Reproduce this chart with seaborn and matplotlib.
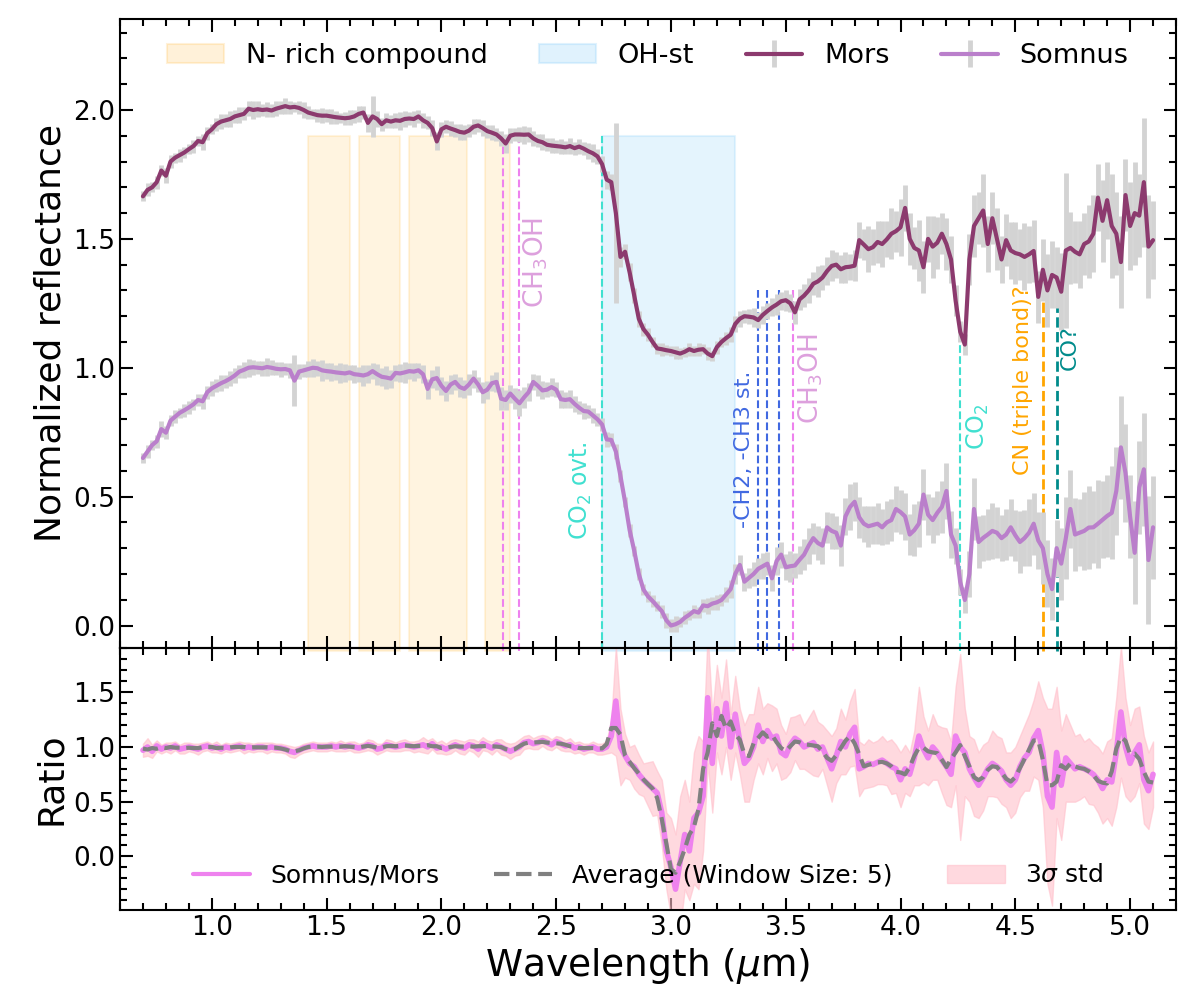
import numpy as np
import pandas as pd
import seaborn as sns
import matplotlib.pyplot as plt
from matplotlib.ticker import MultipleLocator
from matplotlib.lines import Line2D
from matplotlib.patches import Patch

# wavelength grid (um), 0.02 um steps
wavelength = np.round(np.arange(0.70, 5.1001, 0.02), 2)

# Mors spectrum (normalized reflectance, offset +1)
mors = [
    1.665, 1.69, 1.70, 1.72, 1.765, 1.745, 1.80, 1.815, 1.825, 1.835,
    1.848, 1.86, 1.88, 1.875, 1.91, 1.925, 1.945, 1.955, 1.96, 1.965,
    1.975, 1.98, 1.985, 2.005, 2.0, 2.003, 2.0, 2.002, 1.998, 2.005,
    2.01, 2.015, 2.01, 2.012, 2.008, 2.0, 1.99, 1.985, 1.98, 1.978,
    1.978, 1.975, 1.972, 1.97, 1.968, 1.97, 1.975, 1.985, 1.99, 1.95,
    1.975, 1.965, 1.945, 1.96, 1.955, 1.96, 1.958, 1.965, 1.967, 1.965,
    1.975, 1.96, 1.95, 1.93, 1.878, 1.925, 1.935, 1.928, 1.922, 1.915,
    1.912, 1.92, 1.935, 1.94, 1.93, 1.918, 1.912, 1.905, 1.89, 1.87,
    1.9, 1.905, 1.905, 1.904, 1.905, 1.89, 1.88, 1.875, 1.865, 1.862,
    1.86, 1.858, 1.855, 1.86, 1.852, 1.858, 1.85, 1.84, 1.832, 1.82,
    1.79, 1.73, 1.72, 1.6, 1.43, 1.45, 1.37, 1.28, 1.19, 1.15,
    1.128, 1.1, 1.075, 1.072, 1.068, 1.065, 1.06, 1.055, 1.062, 1.072,
    1.065, 1.07, 1.072, 1.055, 1.045, 1.08, 1.1, 1.115, 1.128, 1.17,
    1.19, 1.2, 1.198, 1.195, 1.185, 1.205, 1.22, 1.234, 1.245, 1.258,
    1.262, 1.25, 1.215, 1.265, 1.28, 1.3, 1.326, 1.335, 1.35, 1.375,
    1.395, 1.4, 1.382, 1.39, 1.392, 1.396, 1.495, 1.478, 1.46, 1.468,
    1.488, 1.48, 1.498, 1.52, 1.53, 1.545, 1.62, 1.5, 1.465, 1.455,
    1.39, 1.5, 1.47, 1.485, 1.52, 1.48, 1.42, 1.26, 1.14, 1.09,
    1.42, 1.55, 1.58, 1.61, 1.48, 1.58, 1.5, 1.42, 1.495, 1.455,
    1.445, 1.44, 1.43, 1.44, 1.453, 1.275, 1.38, 1.3, 1.36, 1.35,
    1.295, 1.455, 1.465, 1.45, 1.44, 1.48, 1.49, 1.52, 1.66, 1.57,
    1.65, 1.55, 1.52, 1.41, 1.67, 1.55, 1.6, 1.59, 1.72, 1.47,
    1.495,
]
mors_err = [
    0.02, 0.025, 0.02, 0.025, 0.02, 0.03, 0.025, 0.02, 0.025, 0.02,
    0.02, 0.025, 0.02, 0.03, 0.025, 0.02, 0.025, 0.03, 0.025, 0.03,
    0.025, 0.03, 0.025, 0.03, 0.035, 0.03, 0.025, 0.03, 0.025, 0.03,
    0.025, 0.03, 0.025, 0.02, 0.025, 0.03, 0.025, 0.02, 0.025, 0.03,
    0.025, 0.03, 0.025, 0.02, 0.025, 0.03, 0.025, 0.03, 0.025, 0.035,
    0.08, 0.03, 0.025, 0.03, 0.025, 0.03, 0.035, 0.03, 0.025, 0.03,
    0.025, 0.03, 0.025, 0.03, 0.035, 0.03, 0.025, 0.03, 0.025, 0.03,
    0.03, 0.025, 0.03, 0.025, 0.03, 0.025, 0.03, 0.025, 0.03, 0.035,
    0.03, 0.025, 0.03, 0.035, 0.03, 0.03, 0.025, 0.03, 0.025, 0.03,
    0.025, 0.03, 0.025, 0.03, 0.025, 0.03, 0.025, 0.03, 0.035, 0.03,
    0.03, 0.035, 0.03, 0.35, 0.04, 0.03, 0.035, 0.03, 0.03, 0.025,
    0.025, 0.02, 0.02, 0.025, 0.02, 0.02, 0.025, 0.02, 0.02, 0.025,
    0.02, 0.025, 0.02, 0.025, 0.02, 0.025, 0.02, 0.025, 0.03, 0.03,
    0.03, 0.025, 0.03, 0.035, 0.03, 0.035, 0.03, 0.035, 0.04, 0.035,
    0.04, 0.035, 0.045, 0.04, 0.045, 0.05, 0.045, 0.06, 0.05, 0.055,
    0.06, 0.05, 0.055, 0.06, 0.05, 0.06, 0.07, 0.06, 0.09, 0.07,
    0.08, 0.09, 0.07, 0.1, 0.08, 0.11, 0.09, 0.1, 0.08, 0.12,
    0.1, 0.09, 0.12, 0.1, 0.08, 0.1, 0.09, 0.06, 0.04, 0.04,
    0.1, 0.12, 0.1, 0.14, 0.11, 0.1, 0.12, 0.09, 0.1, 0.11,
    0.12, 0.1, 0.13, 0.11, 0.12, 0.1, 0.12, 0.14, 0.13, 0.12,
    0.15, 0.3, 0.14, 0.12, 0.13, 0.12, 0.14, 0.15, 0.13, 0.16,
    0.15, 0.2, 0.16, 0.18, 0.14, 0.17, 0.2, 0.16, 0.25, 0.2,
    0.15,
]

# Somnus spectrum
somnus = [
    0.65, 0.675, 0.70, 0.715, 0.762, 0.748, 0.795, 0.81, 0.825, 0.835,
    0.846, 0.858, 0.875, 0.87, 0.905, 0.92, 0.93, 0.94, 0.948, 0.958,
    0.97, 0.985, 0.992, 1.0, 1.002, 1.0, 0.998, 1.003, 1.0, 0.996,
    0.994, 0.995, 0.99, 0.95, 0.985, 0.99, 0.995, 1.0, 0.998, 0.99,
    0.987, 0.985, 0.982, 0.98, 0.978, 0.982, 0.975, 0.973, 0.97, 0.975,
    0.987, 0.975, 0.965, 0.962, 0.958, 0.98, 0.978, 0.982, 0.987, 0.985,
    0.99, 0.975, 0.918, 0.955, 0.96, 0.93, 0.91, 0.935, 0.945, 0.925,
    0.918, 0.935, 0.958, 0.935, 0.905, 0.915, 0.94, 0.945, 0.88, 0.875,
    0.9, 0.88, 0.862, 0.885, 0.905, 0.945, 0.93, 0.912, 0.915, 0.925,
    0.915, 0.878, 0.875, 0.878, 0.86, 0.845, 0.832, 0.83, 0.815, 0.8,
    0.78, 0.722, 0.72, 0.675, 0.58, 0.48, 0.37, 0.29, 0.2, 0.14,
    0.113, 0.095, 0.075, 0.056, 0.02, 0.0, 0.005, 0.014, 0.03, 0.042,
    0.056, 0.05, 0.078, 0.075, 0.085, 0.09, 0.099, 0.12, 0.141, 0.2,
    0.235, 0.17, 0.185, 0.2, 0.22, 0.23, 0.24, 0.183, 0.25, 0.275,
    0.226, 0.23, 0.233, 0.255, 0.275, 0.31, 0.339, 0.32, 0.31, 0.381,
    0.367, 0.36, 0.31, 0.423, 0.46, 0.48, 0.42, 0.395, 0.385, 0.39,
    0.395, 0.381, 0.4, 0.409, 0.452, 0.44, 0.423, 0.353, 0.37, 0.395,
    0.508, 0.43, 0.409, 0.437, 0.46, 0.522, 0.353, 0.31, 0.169, 0.099,
    0.2, 0.452, 0.324, 0.34, 0.353, 0.367, 0.36, 0.339, 0.353, 0.381,
    0.35, 0.324, 0.339, 0.36, 0.395, 0.33, 0.3, 0.2, 0.141, 0.3,
    0.24, 0.339, 0.452, 0.353, 0.36, 0.367, 0.38, 0.381, 0.395, 0.41,
    0.425, 0.437, 0.522, 0.691, 0.592, 0.423, 0.282, 0.536, 0.606, 0.254,
    0.381,
]
somnus_err = [
    0.02, 0.025, 0.02, 0.025, 0.03, 0.025, 0.02, 0.025, 0.02, 0.025,
    0.025, 0.02, 0.025, 0.03, 0.025, 0.03, 0.025, 0.03, 0.025, 0.03,
    0.03, 0.025, 0.03, 0.035, 0.03, 0.025, 0.03, 0.035, 0.03, 0.025,
    0.03, 0.025, 0.03, 0.1, 0.03, 0.025, 0.03, 0.035, 0.03, 0.04,
    0.03, 0.035, 0.03, 0.04, 0.035, 0.03, 0.035, 0.03, 0.04, 0.035,
    0.03, 0.04, 0.035, 0.045, 0.035, 0.03, 0.035, 0.04, 0.03, 0.035,
    0.03, 0.035, 0.04, 0.035, 0.045, 0.035, 0.04, 0.035, 0.03, 0.04,
    0.035, 0.04, 0.035, 0.03, 0.04, 0.035, 0.03, 0.04, 0.045, 0.04,
    0.035, 0.04, 0.05, 0.04, 0.035, 0.03, 0.04, 0.035, 0.03, 0.035,
    0.03, 0.035, 0.03, 0.035, 0.03, 0.025, 0.03, 0.025, 0.03, 0.025,
    0.025, 0.03, 0.025, 0.03, 0.025, 0.02, 0.025, 0.02, 0.025, 0.02,
    0.02, 0.025, 0.02, 0.025, 0.03, 0.025, 0.03, 0.02, 0.025, 0.02,
    0.025, 0.02, 0.025, 0.03, 0.025, 0.03, 0.025, 0.03, 0.035, 0.04,
    0.04, 0.035, 0.04, 0.045, 0.04, 0.05, 0.045, 0.05, 0.055, 0.05,
    0.05, 0.06, 0.05, 0.055, 0.06, 0.07, 0.06, 0.065, 0.07, 0.06,
    0.07, 0.065, 0.08, 0.07, 0.09, 0.075, 0.08, 0.07, 0.08, 0.075,
    0.08, 0.07, 0.085, 0.08, 0.09, 0.085, 0.09, 0.08, 0.1, 0.09,
    0.1, 0.08, 0.09, 0.085, 0.1, 0.11, 0.09, 0.07, 0.05, 0.05,
    0.09, 0.12, 0.1, 0.09, 0.1, 0.11, 0.1, 0.09, 0.1, 0.11,
    0.1, 0.12, 0.11, 0.13, 0.12, 0.11, 0.14, 0.13, 0.12, 0.11,
    0.14, 0.16, 0.15, 0.14, 0.13, 0.15, 0.16, 0.14, 0.17, 0.15,
    0.16, 0.18, 0.17, 0.2, 0.19, 0.16, 0.2, 0.18, 0.22, 0.25,
    0.2,
]

# Somnus/Mors ratio and its 3-sigma half width
ratio = [
    0.97, 1.0, 0.96, 1.01, 0.98, 1.0, 0.99, 1.01, 0.98, 0.99,
    1.0, 0.99, 0.98, 1.0, 1.01, 0.99, 1.0, 0.98, 1.0, 0.99,
    1.0, 1.01, 0.99, 1.0, 0.99, 1.0, 1.0, 0.99, 1.0, 0.99,
    0.99, 0.98, 0.96, 0.95, 0.97, 0.99, 1.0, 1.01, 1.0, 1.0,
    1.0, 1.01, 1.0, 1.01, 1.0, 1.01, 1.0, 0.99, 1.0, 1.02,
    1.01, 0.98, 0.99, 1.02, 1.01, 1.0, 1.01, 1.02, 1.01, 1.0,
    1.01, 1.02, 1.0, 1.03, 0.99, 1.0, 0.98, 1.0, 1.02, 1.0,
    0.99, 1.02, 1.01, 0.98, 1.03, 1.01, 0.99, 1.02, 1.0, 0.98,
    0.96, 0.98, 1.0, 1.04, 1.05, 1.03, 1.04, 1.06, 1.04, 1.02,
    1.05, 1.03, 1.01, 1.02, 0.99, 1.0, 0.98, 0.99, 1.0, 0.98,
    0.98, 1.0, 1.1, 1.42, 1.0, 0.92, 0.85, 0.82, 0.75, 0.7,
    0.66, 0.62, 0.58, 0.4, 0.05, -0.1, -0.3, -0.05, 0.2, 0.05,
    0.35, 0.4, 0.55, 1.45, 0.85, 1.35, 1.1, 1.4, 1.0, 1.3,
    1.05, 0.85, 0.9, 1.0, 1.2, 1.05, 1.15, 1.08, 1.1, 0.95,
    0.92, 1.02, 1.08, 1.05, 1.0, 1.02, 1.04, 0.98, 1.0, 0.9,
    0.8, 0.92, 1.05, 1.0, 1.12, 1.18, 0.8, 0.82, 0.85, 0.84,
    0.86, 0.88, 0.85, 0.82, 0.8, 0.7, 0.8, 0.75, 0.9, 1.1,
    0.98, 0.9, 1.0, 0.95, 0.88, 0.82, 0.75, 1.1, 1.0, 0.95,
    0.8, 0.72, 0.65, 0.72, 0.8, 0.85, 0.82, 0.78, 0.7, 0.65,
    0.7, 0.82, 0.9, 0.95, 1.08, 1.15, 0.95, 0.55, 0.45, 0.95,
    0.65, 0.9, 0.85, 0.8, 0.82, 0.8, 0.78, 0.75, 0.7, 0.62,
    0.7, 0.68, 0.95, 1.32, 1.0, 0.85, 0.95, 1.02, 0.7, 0.6,
    0.75,
]
ratio_sig = [
    0.06, 0.08, 0.06, 0.05, 0.04, 0.04, 0.05, 0.04, 0.04, 0.05,
    0.04, 0.04, 0.05, 0.04, 0.04, 0.04, 0.05, 0.04, 0.04, 0.04,
    0.04, 0.04, 0.05, 0.04, 0.04, 0.04, 0.04, 0.05, 0.04, 0.04,
    0.04, 0.04, 0.05, 0.05, 0.04, 0.04, 0.04, 0.04, 0.04, 0.04,
    0.04, 0.04, 0.04, 0.05, 0.04, 0.04, 0.05, 0.04, 0.04, 0.05,
    0.05, 0.05, 0.04, 0.05, 0.05, 0.04, 0.05, 0.05, 0.04, 0.05,
    0.05, 0.07, 0.06, 0.05, 0.05, 0.06, 0.05, 0.06, 0.05, 0.06,
    0.06, 0.05, 0.06, 0.07, 0.06, 0.05, 0.06, 0.05, 0.07, 0.06,
    0.07, 0.06, 0.07, 0.06, 0.06, 0.05, 0.06, 0.05, 0.06, 0.05,
    0.05, 0.06, 0.05, 0.06, 0.05, 0.05, 0.05, 0.04, 0.05, 0.05,
    0.05, 0.06, 0.15, 0.5, 0.35, 0.2, 0.15, 0.2, 0.18, 0.15,
    0.2, 0.25, 0.2, 0.3, 0.35, 0.45, 0.5, 0.6, 0.5, 0.45,
    0.6, 0.7, 0.5, 0.6, 0.45, 0.4, 0.35, 0.4, 0.3, 0.35,
    0.3, 0.35, 0.4, 0.3, 0.35, 0.3, 0.25, 0.3, 0.25, 0.25,
    0.2, 0.25, 0.2, 0.25, 0.2, 0.25, 0.3, 0.25, 0.2, 0.25,
    0.3, 0.25, 0.3, 0.25, 0.3, 0.35, 0.25, 0.2, 0.22, 0.2,
    0.2, 0.22, 0.2, 0.25, 0.22, 0.25, 0.22, 0.2, 0.25, 0.45,
    0.3, 0.25, 0.3, 0.25, 0.3, 0.35, 0.3, 0.45, 0.85, 0.4,
    0.3, 0.35, 0.3, 0.3, 0.25, 0.3, 0.28, 0.3, 0.25, 0.3,
    0.3, 0.28, 0.3, 0.35, 0.35, 0.45, 0.5, 0.8, 0.9, 0.6,
    0.5, 0.4, 0.35, 0.3, 0.3, 0.25, 0.3, 0.28, 0.3, 0.32,
    0.35, 0.4, 0.5, 0.6, 0.45, 0.35, 0.4, 0.35, 0.4, 0.35,
    0.3,
]

# absorption bands (um)
n_rich_bands = [(1.42, 1.60), (1.64, 1.82), (1.86, 2.11), (2.19, 2.30)]
oh_band = (2.70, 3.28)
ch3oh_lines = [2.27, 2.34, 3.53]
co2_lines = [2.70, 4.26]
ch_lines = [3.38, 3.42, 3.47]
cn_line = 4.62
co_line = 4.68

for name, arr in [("mors", mors), ("mors_err", mors_err), ("somnus", somnus),
                  ("somnus_err", somnus_err), ("ratio", ratio), ("ratio_sig", ratio_sig)]:
    assert len(arr) == len(wavelength), (name, len(arr))

df = pd.DataFrame({"wl": wavelength, "mors": mors, "mors_err": mors_err,
                   "somnus": somnus, "somnus_err": somnus_err,
                   "ratio": ratio, "ratio_sig": ratio_sig})
df["avg"] = df["ratio"].rolling(3, center=True, min_periods=1).mean()

sns.set_style("ticks", {"axes.edgecolor": "black", "xtick.color": "black",
                        "ytick.color": "black", "text.color": "black",
                        "axes.labelcolor": "black"})
plt.rcParams["font.family"] = ["DejaVu Sans"]
plt.rcParams["mathtext.fontset"] = "dejavusans"

mors_c = "#8C3A6E"
somnus_c = "#BA7FCB"

fig = plt.figure(figsize=(12, 10), dpi=100)
gs = fig.add_gridspec(2, 1, height_ratios=[2.4, 1], hspace=0,
                      left=0.1, right=0.98, top=0.981, bottom=0.09)
ax1 = fig.add_subplot(gs[0])
ax2 = fig.add_subplot(gs[1], sharex=ax1)
ax2.patch.set_alpha(0)

# shaded bands
for a, b in n_rich_bands:
    ax1.fill_between([a, b], -0.1, 1.9, color="orange", alpha=0.12, lw=1.5,
                     clip_on=False, zorder=0)
ax1.fill_between(list(oh_band), -0.1, 1.9, color="lightskyblue", alpha=0.22,
                 lw=1.5, clip_on=False, zorder=0)

# feature lines
vl = dict(linestyles="--", clip_on=False, zorder=1)
ax1.vlines(ch3oh_lines[:2], -0.1, 1.9, colors="violet", lw=1.5, **vl)
ax1.vlines(ch3oh_lines[2], -0.1, 1.3, colors="violet", lw=1.5, **vl)
ax1.vlines(co2_lines[0], -0.1, 1.9, colors="turquoise", lw=1.5, **vl)
ax1.vlines(co2_lines[1], -0.1, 1.1, colors="turquoise", lw=1.5, **vl)
ax1.vlines(ch_lines, -0.1, 1.3, colors="royalblue", lw=1.5, **vl)
ax1.vlines(cn_line, -0.1, 1.3, colors="orange", lw=2, **vl)
ax1.vlines(co_line, -0.1, 1.28, colors="darkcyan", lw=2, **vl)

# spectra with error bars
eb_m = ax1.errorbar(df.wl, df.mors, yerr=df.mors_err, color=mors_c, lw=3,
                    ecolor="lightgrey", elinewidth=3.5, zorder=3)
eb_s = ax1.errorbar(df.wl, df.somnus, yerr=df.somnus_err, color=somnus_c, lw=3,
                    ecolor="lightgrey", elinewidth=3.5, zorder=3)

tk = dict(rotation=90, va="bottom")
ax1.text(2.35, 1.23, "CH$_3$OH", color="plum", ha="left", fontsize=19, **tk)
ax1.text(2.665, 0.33, "CO$_2$ ovt.", color="turquoise", ha="right", fontsize=17, **tk)
ax1.text(3.36, 0.38, "-CH2, -CH3 st.", color="royalblue", ha="right", fontsize=16, **tk)
ax1.text(3.545, 0.78, "CH$_3$OH", color="plum", ha="left", fontsize=19, **tk)
ax1.text(4.28, 0.68, "CO$_2$", color="turquoise", ha="left", fontsize=17, **tk)
ax1.text(4.575, 0.585, "CN (triple bond)?", color="orange", ha="right", fontsize=16, **tk)
ax1.text(4.695, 0.99, "CO?", color="darkcyan", ha="left", fontsize=16, **tk)

h_top = [Patch(facecolor="orange", edgecolor="orange", alpha=0.15, lw=1.5),
         Patch(facecolor="lightskyblue", edgecolor="lightskyblue", alpha=0.25, lw=1.5),
         eb_m, eb_s]
ax1.legend(h_top, ["N- rich compound", "OH-st", "Mors", "Somnus"],
           loc="upper center", ncol=4, frameon=False, fontsize=19.5,
           handlelength=2.1, columnspacing=1.9)

ax1.set_ylim(-0.087, 2.353)
ax1.set_ylabel("Normalized reflectance", fontsize=26)

# ratio panel
ax2.fill_between(df.wl, df.ratio - df.ratio_sig, df.ratio + df.ratio_sig,
                 color="pink", alpha=0.6, lw=1, zorder=1)
sns.lineplot(data=df, x="wl", y="ratio", ax=ax2, color="violet", lw=4,
             estimator=None, sort=False, zorder=2)
sns.lineplot(data=df, x="wl", y="avg", ax=ax2, color="grey", lw=3,
             linestyle="--", estimator=None, sort=False, zorder=3)

h_bot = [Line2D([], [], color="violet", lw=3),
         Line2D([], [], color="grey", lw=3, ls="--"),
         Patch(facecolor="pink", edgecolor="pink", alpha=0.6)]
ax2.legend(h_bot, ["Somnus/Mors", "Average (Window Size: 5)", "3$\\sigma$ std"],
           loc="lower center", ncol=3, frameon=False, fontsize=18,
           handlelength=2.3, columnspacing=2.2)

ax2.set_ylim(-0.49, 1.905)
ax2.set_xlim(0.6, 5.2)
ax2.set_ylabel("Ratio", fontsize=26)
ax2.set_xlabel("Wavelength ($\\mu$m)", fontsize=27)

for ax in (ax1, ax2):
    ax.xaxis.set_major_locator(MultipleLocator(0.5))
    ax.xaxis.set_minor_locator(MultipleLocator(0.1))
    ax.yaxis.set_major_locator(MultipleLocator(0.5))
    ax.yaxis.set_minor_locator(MultipleLocator(0.1))
    ax.tick_params(which="both", direction="in", top=True, right=True,
                   labelsize=19, width=1.5)
    ax.tick_params(which="major", length=9)
    ax.tick_params(which="minor", length=5)
    for s in ax.spines.values():
        s.set_linewidth(1.5)
ax1.tick_params(labelbottom=False)
fig.align_ylabels([ax1, ax2])

fig.savefig("out.png", dpi=100)
